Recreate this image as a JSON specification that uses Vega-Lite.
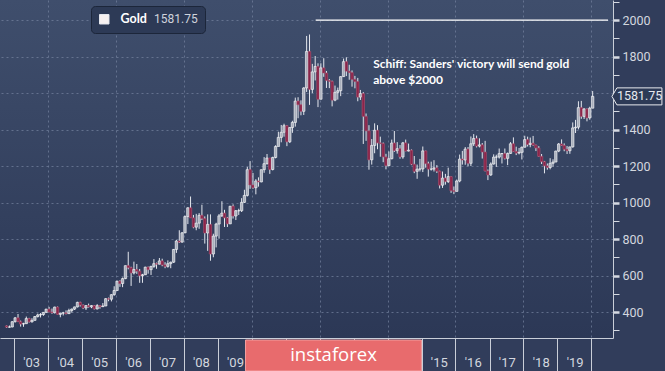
{
  "$schema": "https://vega.github.io/schema/vega-lite/v6.json",
  "autosize": {"type": "none"},
  "padding": {"left": 0, "top": 0, "right": 52, "bottom": 33},
  "width": 613,
  "height": 338,
  "background": "#313d5b",
  "config": {
    "view": {"stroke": null, "fill": {"gradient": "linear", "x1": 0, "y1": 0, "x2": 0, "y2": 1, "stops": [{"offset": 0, "color": "#3f4e6c"}, {"offset": 1, "color": "#2c3856"}]}},
    "font": "Roboto"
  },
  "resolve": {"axis": {"x": "independent", "y": "independent"}},
  "datasets": {
    "gold": [
      {"d":"2002-10-15","o":324,"h":326,"l":313,"c":317},
      {"d":"2002-11-15","o":317,"h":326,"l":314,"c":318},
      {"d":"2002-12-15","o":318,"h":349,"l":316,"c":347},
      {"d":"2003-01-15","o":347,"h":372,"l":342,"c":368},
      {"d":"2003-02-15","o":368,"h":389,"l":345,"c":347},
      {"d":"2003-03-15","o":347,"h":353,"l":320,"c":334},
      {"d":"2003-04-15","o":334,"h":341,"l":319,"c":336},
      {"d":"2003-05-15","o":336,"h":375,"l":335,"c":364},
      {"d":"2003-06-15","o":364,"h":368,"l":342,"c":346},
      {"d":"2003-07-15","o":346,"h":366,"l":342,"c":354},
      {"d":"2003-08-15","o":354,"h":378,"l":354,"c":375},
      {"d":"2003-09-15","o":375,"h":391,"l":370,"c":384},
      {"d":"2003-10-15","o":384,"h":394,"l":370,"c":386},
      {"d":"2003-11-15","o":386,"h":400,"l":379,"c":398},
      {"d":"2003-12-15","o":398,"h":417,"l":396,"c":416},
      {"d":"2004-01-15","o":416,"h":428,"l":399,"c":400},
      {"d":"2004-02-15","o":400,"h":419,"l":390,"c":396},
      {"d":"2004-03-15","o":396,"h":429,"l":392,"c":427},
      {"d":"2004-04-15","o":427,"h":430,"l":387,"c":387},
      {"d":"2004-05-15","o":387,"h":396,"l":371,"c":394},
      {"d":"2004-06-15","o":394,"h":401,"l":381,"c":395},
      {"d":"2004-07-15","o":395,"h":409,"l":387,"c":391},
      {"d":"2004-08-15","o":391,"h":418,"l":389,"c":408},
      {"d":"2004-09-15","o":408,"h":419,"l":397,"c":416},
      {"d":"2004-10-15","o":416,"h":429,"l":411,"c":428},
      {"d":"2004-11-15","o":428,"h":456,"l":425,"c":453},
      {"d":"2004-12-15","o":453,"h":456,"l":430,"c":438},
      {"d":"2005-01-15","o":438,"h":441,"l":416,"c":422},
      {"d":"2005-02-15","o":422,"h":438,"l":411,"c":435},
      {"d":"2005-03-15","o":435,"h":446,"l":424,"c":428},
      {"d":"2005-04-15","o":428,"h":437,"l":421,"c":435},
      {"d":"2005-05-15","o":435,"h":438,"l":414,"c":417},
      {"d":"2005-06-15","o":417,"h":443,"l":414,"c":435},
      {"d":"2005-07-15","o":435,"h":437,"l":418,"c":429},
      {"d":"2005-08-15","o":429,"h":449,"l":428,"c":433},
      {"d":"2005-09-15","o":433,"h":476,"l":432,"c":473},
      {"d":"2005-10-15","o":473,"h":479,"l":459,"c":470},
      {"d":"2005-11-15","o":470,"h":497,"l":458,"c":495},
      {"d":"2005-12-15","o":495,"h":541,"l":489,"c":518},
      {"d":"2006-01-15","o":518,"h":571,"l":516,"c":569},
      {"d":"2006-02-15","o":569,"h":574,"l":538,"c":556},
      {"d":"2006-03-15","o":556,"h":589,"l":536,"c":583},
      {"d":"2006-04-15","o":583,"h":654,"l":580,"c":654},
      {"d":"2006-05-15","o":654,"h":730,"l":634,"c":643},
      {"d":"2006-06-15","o":643,"h":648,"l":543,"c":614},
      {"d":"2006-07-15","o":614,"h":676,"l":606,"c":633},
      {"d":"2006-08-15","o":633,"h":663,"l":609,"c":624},
      {"d":"2006-09-15","o":624,"h":636,"l":560,"c":599},
      {"d":"2006-10-15","o":599,"h":609,"l":560,"c":604},
      {"d":"2006-11-15","o":604,"h":648,"l":603,"c":646},
      {"d":"2006-12-15","o":646,"h":649,"l":610,"c":632},
      {"d":"2007-01-15","o":632,"h":653,"l":603,"c":650},
      {"d":"2007-02-15","o":650,"h":690,"l":642,"c":665},
      {"d":"2007-03-15","o":665,"h":671,"l":637,"c":662},
      {"d":"2007-04-15","o":662,"h":696,"l":661,"c":680},
      {"d":"2007-05-15","o":680,"h":692,"l":651,"c":658},
      {"d":"2007-06-15","o":658,"h":673,"l":640,"c":650},
      {"d":"2007-07-15","o":650,"h":683,"l":643,"c":665},
      {"d":"2007-08-15","o":665,"h":676,"l":640,"c":673},
      {"d":"2007-09-15","o":673,"h":745,"l":669,"c":743},
      {"d":"2007-10-15","o":743,"h":795,"l":724,"c":789},
      {"d":"2007-11-15","o":789,"h":848,"l":778,"c":783},
      {"d":"2007-12-15","o":783,"h":838,"l":780,"c":834},
      {"d":"2008-01-15","o":834,"h":929,"l":832,"c":923},
      {"d":"2008-02-15","o":923,"h":974,"l":882,"c":971},
      {"d":"2008-03-15","o":971,"h":1033,"l":917,"c":916},
      {"d":"2008-04-15","o":916,"h":932,"l":859,"c":865},
      {"d":"2008-05-15","o":865,"h":938,"l":848,"c":887},
      {"d":"2008-06-15","o":887,"h":942,"l":856,"c":930},
      {"d":"2008-07-15","o":930,"h":988,"l":904,"c":912},
      {"d":"2008-08-15","o":912,"h":924,"l":775,"c":833},
      {"d":"2008-09-15","o":833,"h":935,"l":735,"c":880},
      {"d":"2008-10-15","o":880,"h":935,"l":681,"c":718},
      {"d":"2008-11-15","o":718,"h":829,"l":700,"c":816},
      {"d":"2008-12-15","o":816,"h":889,"l":754,"c":882},
      {"d":"2009-01-15","o":882,"h":937,"l":802,"c":927},
      {"d":"2009-02-15","o":927,"h":1007,"l":921,"c":942},
      {"d":"2009-03-15","o":942,"h":960,"l":866,"c":916},
      {"d":"2009-04-15","o":916,"h":921,"l":866,"c":883},
      {"d":"2009-05-15","o":883,"h":980,"l":882,"c":980},
      {"d":"2009-06-15","o":980,"h":990,"l":912,"c":926},
      {"d":"2009-07-15","o":926,"h":959,"l":904,"c":955},
      {"d":"2009-08-15","o":955,"h":966,"l":932,"c":955},
      {"d":"2009-09-15","o":955,"h":1024,"l":948,"c":1001},
      {"d":"2009-10-15","o":1001,"h":1070,"l":998,"c":1039},
      {"d":"2009-11-15","o":1039,"h":1195,"l":1033,"c":1180},
      {"d":"2009-12-15","o":1180,"h":1227,"l":1075,"c":1096},
      {"d":"2010-01-15","o":1096,"h":1162,"l":1075,"c":1081},
      {"d":"2010-02-15","o":1081,"h":1128,"l":1045,"c":1118},
      {"d":"2010-03-15","o":1118,"h":1138,"l":1087,"c":1113},
      {"d":"2010-04-15","o":1113,"h":1180,"l":1111,"c":1180},
      {"d":"2010-05-15","o":1180,"h":1249,"l":1163,"c":1213},
      {"d":"2010-06-15","o":1213,"h":1266,"l":1208,"c":1244},
      {"d":"2010-07-15","o":1244,"h":1244,"l":1157,"c":1181},
      {"d":"2010-08-15","o":1181,"h":1251,"l":1176,"c":1247},
      {"d":"2010-09-15","o":1247,"h":1314,"l":1242,"c":1307},
      {"d":"2010-10-15","o":1307,"h":1388,"l":1315,"c":1357},
      {"d":"2010-11-15","o":1357,"h":1425,"l":1330,"c":1385},
      {"d":"2010-12-15","o":1385,"h":1432,"l":1361,"c":1421},
      {"d":"2011-01-15","o":1421,"h":1424,"l":1309,"c":1333},
      {"d":"2011-02-15","o":1333,"h":1412,"l":1326,"c":1411},
      {"d":"2011-03-15","o":1411,"h":1448,"l":1382,"c":1439},
      {"d":"2011-04-15","o":1439,"h":1575,"l":1416,"c":1556},
      {"d":"2011-05-15","o":1556,"h":1577,"l":1462,"c":1536},
      {"d":"2011-06-15","o":1536,"h":1560,"l":1478,"c":1500},
      {"d":"2011-07-15","o":1500,"h":1632,"l":1480,"c":1628},
      {"d":"2011-08-15","o":1628,"h":1913,"l":1606,"c":1828},
      {"d":"2011-09-15","o":1828,"h":1921,"l":1535,"c":1620},
      {"d":"2011-10-15","o":1620,"h":1760,"l":1600,"c":1716},
      {"d":"2011-11-15","o":1716,"h":1803,"l":1669,"c":1746},
      {"d":"2011-12-15","o":1746,"h":1763,"l":1523,"c":1566},
      {"d":"2012-01-15","o":1566,"h":1763,"l":1566,"c":1738},
      {"d":"2012-02-15","o":1738,"h":1791,"l":1689,"c":1710},
      {"d":"2012-03-15","o":1710,"h":1721,"l":1628,"c":1669},
      {"d":"2012-04-15","o":1669,"h":1677,"l":1627,"c":1664},
      {"d":"2012-05-15","o":1664,"h":1668,"l":1527,"c":1561},
      {"d":"2012-06-15","o":1561,"h":1641,"l":1555,"c":1604},
      {"d":"2012-07-15","o":1604,"h":1630,"l":1564,"c":1613},
      {"d":"2012-08-15","o":1613,"h":1692,"l":1583,"c":1690},
      {"d":"2012-09-15","o":1690,"h":1789,"l":1689,"c":1772},
      {"d":"2012-10-15","o":1772,"h":1796,"l":1693,"c":1720},
      {"d":"2012-11-15","o":1720,"h":1755,"l":1673,"c":1712},
      {"d":"2012-12-15","o":1712,"h":1724,"l":1635,"c":1675},
      {"d":"2013-01-15","o":1675,"h":1694,"l":1626,"c":1663},
      {"d":"2013-02-15","o":1663,"h":1683,"l":1555,"c":1578},
      {"d":"2013-03-15","o":1578,"h":1617,"l":1562,"c":1597},
      {"d":"2013-04-15","o":1597,"h":1605,"l":1321,"c":1472},
      {"d":"2013-05-15","o":1472,"h":1488,"l":1338,"c":1393},
      {"d":"2013-06-15","o":1393,"h":1424,"l":1180,"c":1234},
      {"d":"2013-07-15","o":1234,"h":1348,"l":1208,"c":1313},
      {"d":"2013-08-15","o":1313,"h":1434,"l":1270,"c":1396},
      {"d":"2013-09-15","o":1396,"h":1424,"l":1292,"c":1327},
      {"d":"2013-10-15","o":1327,"h":1361,"l":1251,"c":1323},
      {"d":"2013-11-15","o":1323,"h":1329,"l":1221,"c":1250},
      {"d":"2013-12-15","o":1250,"h":1267,"l":1182,"c":1202},
      {"d":"2014-01-15","o":1202,"h":1280,"l":1200,"c":1240},
      {"d":"2014-02-15","o":1240,"h":1345,"l":1237,"c":1326},
      {"d":"2014-03-15","o":1326,"h":1392,"l":1277,"c":1284},
      {"d":"2014-04-15","o":1284,"h":1331,"l":1268,"c":1295},
      {"d":"2014-05-15","o":1295,"h":1315,"l":1240,"c":1250},
      {"d":"2014-06-15","o":1250,"h":1332,"l":1240,"c":1327},
      {"d":"2014-07-15","o":1327,"h":1345,"l":1281,"c":1282},
      {"d":"2014-08-15","o":1282,"h":1323,"l":1280,"c":1287},
      {"d":"2014-09-15","o":1287,"h":1291,"l":1205,"c":1210},
      {"d":"2014-10-15","o":1210,"h":1255,"l":1161,"c":1171},
      {"d":"2014-11-15","o":1171,"h":1208,"l":1130,"c":1183},
      {"d":"2014-12-15","o":1183,"h":1239,"l":1170,"c":1184},
      {"d":"2015-01-15","o":1184,"h":1307,"l":1167,"c":1283},
      {"d":"2015-02-15","o":1283,"h":1284,"l":1191,"c":1213},
      {"d":"2015-03-15","o":1213,"h":1224,"l":1142,"c":1183},
      {"d":"2015-04-15","o":1183,"h":1224,"l":1175,"c":1183},
      {"d":"2015-05-15","o":1183,"h":1232,"l":1170,"c":1190},
      {"d":"2015-06-15","o":1190,"h":1205,"l":1162,"c":1172},
      {"d":"2015-07-15","o":1172,"h":1174,"l":1077,"c":1095},
      {"d":"2015-08-15","o":1095,"h":1170,"l":1080,"c":1134},
      {"d":"2015-09-15","o":1134,"h":1157,"l":1098,"c":1115},
      {"d":"2015-10-15","o":1115,"h":1191,"l":1107,"c":1142},
      {"d":"2015-11-15","o":1142,"h":1143,"l":1053,"c":1065},
      {"d":"2015-12-15","o":1065,"h":1088,"l":1046,"c":1061},
      {"d":"2016-01-15","o":1061,"h":1126,"l":1061,"c":1118},
      {"d":"2016-02-15","o":1118,"h":1263,"l":1111,"c":1238},
      {"d":"2016-03-15","o":1238,"h":1283,"l":1208,"c":1233},
      {"d":"2016-04-15","o":1233,"h":1304,"l":1207,"c":1293},
      {"d":"2016-05-15","o":1293,"h":1304,"l":1199,"c":1215},
      {"d":"2016-06-15","o":1215,"h":1362,"l":1200,"c":1322},
      {"d":"2016-07-15","o":1322,"h":1375,"l":1310,"c":1351},
      {"d":"2016-08-15","o":1351,"h":1367,"l":1302,"c":1309},
      {"d":"2016-09-15","o":1309,"h":1352,"l":1302,"c":1316},
      {"d":"2016-10-15","o":1316,"h":1326,"l":1241,"c":1277},
      {"d":"2016-11-15","o":1277,"h":1338,"l":1171,"c":1173},
      {"d":"2016-12-15","o":1173,"h":1181,"l":1123,"c":1151},
      {"d":"2017-01-15","o":1151,"h":1220,"l":1146,"c":1211},
      {"d":"2017-02-15","o":1211,"h":1264,"l":1208,"c":1249},
      {"d":"2017-03-15","o":1249,"h":1262,"l":1195,"c":1249},
      {"d":"2017-04-15","o":1249,"h":1296,"l":1241,"c":1268},
      {"d":"2017-05-15","o":1268,"h":1270,"l":1214,"c":1268},
      {"d":"2017-06-15","o":1268,"h":1296,"l":1236,"c":1242},
      {"d":"2017-07-15","o":1242,"h":1274,"l":1205,"c":1269},
      {"d":"2017-08-15","o":1269,"h":1331,"l":1267,"c":1322},
      {"d":"2017-09-15","o":1322,"h":1357,"l":1279,"c":1280},
      {"d":"2017-10-15","o":1280,"h":1306,"l":1260,"c":1271},
      {"d":"2017-11-15","o":1271,"h":1299,"l":1264,"c":1275},
      {"d":"2017-12-15","o":1275,"h":1307,"l":1236,"c":1303},
      {"d":"2018-01-15","o":1303,"h":1366,"l":1302,"c":1345},
      {"d":"2018-02-15","o":1345,"h":1361,"l":1307,"c":1318},
      {"d":"2018-03-15","o":1318,"h":1356,"l":1303,"c":1325},
      {"d":"2018-04-15","o":1325,"h":1365,"l":1311,"c":1315},
      {"d":"2018-05-15","o":1315,"h":1317,"l":1282,"c":1299},
      {"d":"2018-06-15","o":1299,"h":1309,"l":1251,"c":1253},
      {"d":"2018-07-15","o":1253,"h":1266,"l":1211,"c":1224},
      {"d":"2018-08-15","o":1224,"h":1228,"l":1160,"c":1201},
      {"d":"2018-09-15","o":1201,"h":1214,"l":1180,"c":1192},
      {"d":"2018-10-15","o":1192,"h":1243,"l":1182,"c":1215},
      {"d":"2018-11-15","o":1215,"h":1237,"l":1196,"c":1222},
      {"d":"2018-12-15","o":1222,"h":1284,"l":1221,"c":1282},
      {"d":"2019-01-15","o":1282,"h":1326,"l":1276,"c":1321},
      {"d":"2019-02-15","o":1321,"h":1346,"l":1310,"c":1313},
      {"d":"2019-03-15","o":1313,"h":1324,"l":1281,"c":1292},
      {"d":"2019-04-15","o":1292,"h":1310,"l":1266,"c":1284},
      {"d":"2019-05-15","o":1284,"h":1306,"l":1267,"c":1305},
      {"d":"2019-06-15","o":1305,"h":1439,"l":1301,"c":1409},
      {"d":"2019-07-15","o":1409,"h":1453,"l":1381,"c":1413},
      {"d":"2019-08-15","o":1413,"h":1555,"l":1401,"c":1520},
      {"d":"2019-09-15","o":1520,"h":1557,"l":1459,"c":1472},
      {"d":"2019-10-15","o":1472,"h":1517,"l":1458,"c":1513},
      {"d":"2019-11-15","o":1513,"h":1515,"l":1445,"c":1464},
      {"d":"2019-12-15","o":1464,"h":1525,"l":1454,"c":1517},
      {"d":"2020-01-15","o":1517,"h":1611,"l":1517,"c":1581.75}
    ]
  },
  "layer": [
    {
      "data": {"name": "gold"},
      "mark": {"type": "rule", "strokeWidth": 1},
      "encoding": {
        "x": {
          "field": "d", "type": "temporal", "title": null,
          "scale": {"type": "utc", "nice": false, "domain": [{"year": 2002, "month": 9, "date": 28, "utc": true}, {"year": 2020, "month": 6, "date": 28, "utc": true}]},
          "axis": {
            "orient": "bottom",
            "values": [
              {"year": 2003, "month": 1, "date": 1, "utc": true},
              {"year": 2004, "month": 1, "date": 1, "utc": true},
              {"year": 2005, "month": 1, "date": 1, "utc": true},
              {"year": 2006, "month": 1, "date": 1, "utc": true},
              {"year": 2007, "month": 1, "date": 1, "utc": true},
              {"year": 2008, "month": 1, "date": 1, "utc": true},
              {"year": 2009, "month": 1, "date": 1, "utc": true},
              {"year": 2010, "month": 1, "date": 1, "utc": true},
              {"year": 2011, "month": 1, "date": 1, "utc": true},
              {"year": 2012, "month": 1, "date": 1, "utc": true},
              {"year": 2013, "month": 1, "date": 1, "utc": true},
              {"year": 2014, "month": 1, "date": 1, "utc": true},
              {"year": 2015, "month": 1, "date": 1, "utc": true},
              {"year": 2016, "month": 1, "date": 1, "utc": true},
              {"year": 2017, "month": 1, "date": 1, "utc": true},
              {"year": 2018, "month": 1, "date": 1, "utc": true},
              {"year": 2019, "month": 1, "date": 1, "utc": true},
              {"year": 2020, "month": 1, "date": 1, "utc": true}
            ],
            "labelExpr": "(utcyear(datum.value) == 2020 || (utcyear(datum.value) >= 2010 && utcyear(datum.value) <= 2014)) ? '' : utcFormat(datum.value, \"'%y\")",
            "labelOffset": 17.3,
            "labelAlign": "center",
            "labelBaseline": "top",
            "labelPadding": -15,
            "labelFlush": false,
            "labelOverlap": false,
            "labelBound": false,
            "labelColor": "#d3d7df",
            "labelFont": "Roboto",
            "labelFontSize": 13,
            "tickSize": 33,
            "tickColor": "#c9ced8",
            "tickWidth": 1,
            "domainColor": "#c9ced8",
            "domainWidth": 1,
            "grid": true,
            "gridColor": "#7683a0",
            "gridDash": [2, 3],
            "gridWidth": 1,
            "gridOpacity": {"condition": {"test": "utcyear(datum.value) % 2 == 0", "value": 0.7}, "value": 0}
          }
        },
        "y": {
          "field": "l", "type": "quantitative", "title": null,
          "scale": {"domain": [257.5, 2110], "nice": false, "zero": false},
          "axis": {
            "orient": "right",
            "values": [300, 400, 500, 600, 700, 800, 900, 1000, 1100, 1200, 1300, 1400, 1500, 1600, 1700, 1800, 1900, 2000, 2100],
            "labelExpr": "datum.value % 200 == 0 && datum.value != 1600 ? '' + datum.value : ''",
            "labelOverlap": false,
            "labelFlush": false,
            "labelBound": false,
            "labelColor": "#d3d7df",
            "labelFont": "Roboto",
            "labelFontSize": 12.5,
            "labelPadding": 3,
            "tickSize": 6,
            "tickColor": "#d6dae2",
            "tickWidth": {"condition": {"test": "datum.value % 200 == 0", "value": 2.5}, "value": 1},
            "domainColor": "#c9ced8",
            "domainWidth": 1,
            "grid": true,
            "gridColor": "#7683a0",
            "gridDash": [2, 3],
            "gridWidth": 1,
            "gridOpacity": {"condition": {"test": "datum.value % 200 == 0", "value": 0.7}, "value": 0}
          }
        },
        "y2": {"field": "h"},
        "stroke": {
          "datum": "Gold",
          "scale": {"range": ["#e4e7ee"]},
          "legend": {
            "orient": "none",
            "legendX": 91,
            "legendY": 6,
            "title": "1581.75",
            "titleOrient": "right",
            "titleColor": "#cfd3dc",
            "titleFont": "Roboto",
            "titleFontSize": 12,
            "titleFontWeight": "normal",
            "titlePadding": 7,
            "titleBaseline": "middle",
            "fillColor": "#2d3a56",
            "strokeColor": "#1c263a",
            "cornerRadius": 4,
            "padding": 7,
            "symbolType": "square",
            "symbolSize": 90,
            "symbolFillColor": "#f7f1f1",
            "symbolStrokeColor": "#ffffff",
            "symbolStrokeWidth": 1,
            "labelColor": "#ffffff",
            "labelFont": "Lato",
            "labelFontSize": 12.5,
            "labelFontWeight": "bold",
            "labelOffset": 10
          }
        }
      }
    },
    {
      "data": {"name": "gold"},
      "mark": {"type": "bar", "size": 2.4, "strokeWidth": 0.6},
      "encoding": {
        "x": {"field": "d", "type": "temporal", "axis": null},
        "y": {"field": "o", "type": "quantitative", "axis": null},
        "y2": {"field": "c"},
        "fill": {"condition": {"test": "datum.c >= datum.o", "value": "#a9afbc"}, "value": "#8a2449"},
        "stroke": {"condition": {"test": "datum.c >= datum.o", "value": "#ffffff"}, "value": "#b0506f"}
      }
    },
    {
      "data": {"values": [{"start": "2011-11-20", "end": "2020-06-28", "level": 2000}]},
      "mark": {"type": "rule", "color": "#ffffff", "strokeWidth": 1.2},
      "encoding": {
        "x": {"field": "start", "type": "temporal", "axis": null},
        "x2": {"field": "end"},
        "y": {"field": "level", "type": "quantitative", "axis": null}
      }
    },
    {
      "data": {"values": [{"d": "2013-07-30", "v": 1785, "label": "Schiff: Sanders' victory will send gold\nabove $2000"}]},
      "mark": {"type": "text", "align": "left", "baseline": "top", "lineBreak": "\n", "lineHeight": 16, "font": "Lato", "fontWeight": "bold", "fontSize": 12, "color": "#ffffff"},
      "encoding": {
        "x": {"field": "d", "type": "temporal", "axis": null},
        "y": {"field": "v", "type": "quantitative", "axis": null},
        "text": {"field": "label"}
      }
    },
    {
      "data": {"values": [{"d": "2020-08-09", "v": 1581.75, "label": "1581.75"}]},
      "mark": {"type": "point", "shape": "M0,0 L0.5,-0.85 L5,-0.85 L5,0.85 L0.5,0.85 Z", "size": 400, "filled": true, "fill": "#2d3a56", "stroke": "#e8eaef", "strokeWidth": 1, "opacity": 1},
      "encoding": {
        "x": {"field": "d", "type": "temporal", "axis": null},
        "y": {"field": "v", "type": "quantitative", "axis": null}
      }
    },
    {
      "data": {"values": [{"d": "2020-08-09", "v": 1581.75, "label": "1581.75"}]},
      "mark": {"type": "text", "align": "left", "baseline": "middle", "dx": 5, "font": "Roboto", "fontSize": 12.5, "color": "#e6e8ee"},
      "encoding": {
        "x": {"field": "d", "type": "temporal", "axis": null},
        "y": {"field": "v", "type": "quantitative", "axis": null},
        "text": {"field": "label"}
      }
    },
    {
      "data": {"values": [{"x1": "2009-10-27", "x2": "2014-12-31", "y1": 246.6, "y2": 76.7}]},
      "mark": {"type": "rect", "color": "#e86b6d", "stroke": "#f3a0a0", "strokeWidth": 1},
      "encoding": {
        "x": {"field": "x1", "type": "temporal", "axis": null},
        "x2": {"field": "x2"},
        "y": {"field": "y1", "type": "quantitative", "axis": null},
        "y2": {"field": "y2"}
      }
    },
    {
      "data": {"values": [{"xm": "2012-05-30", "ym": 163, "label": "instaforex"}]},
      "mark": {"type": "text", "align": "center", "baseline": "middle", "font": "Open Sans", "fontSize": 18.5, "color": "#ffffff"},
      "encoding": {
        "x": {"field": "xm", "type": "temporal", "axis": null},
        "y": {"field": "ym", "type": "quantitative", "axis": null},
        "text": {"field": "label"}
      }
    }
  ]
}
